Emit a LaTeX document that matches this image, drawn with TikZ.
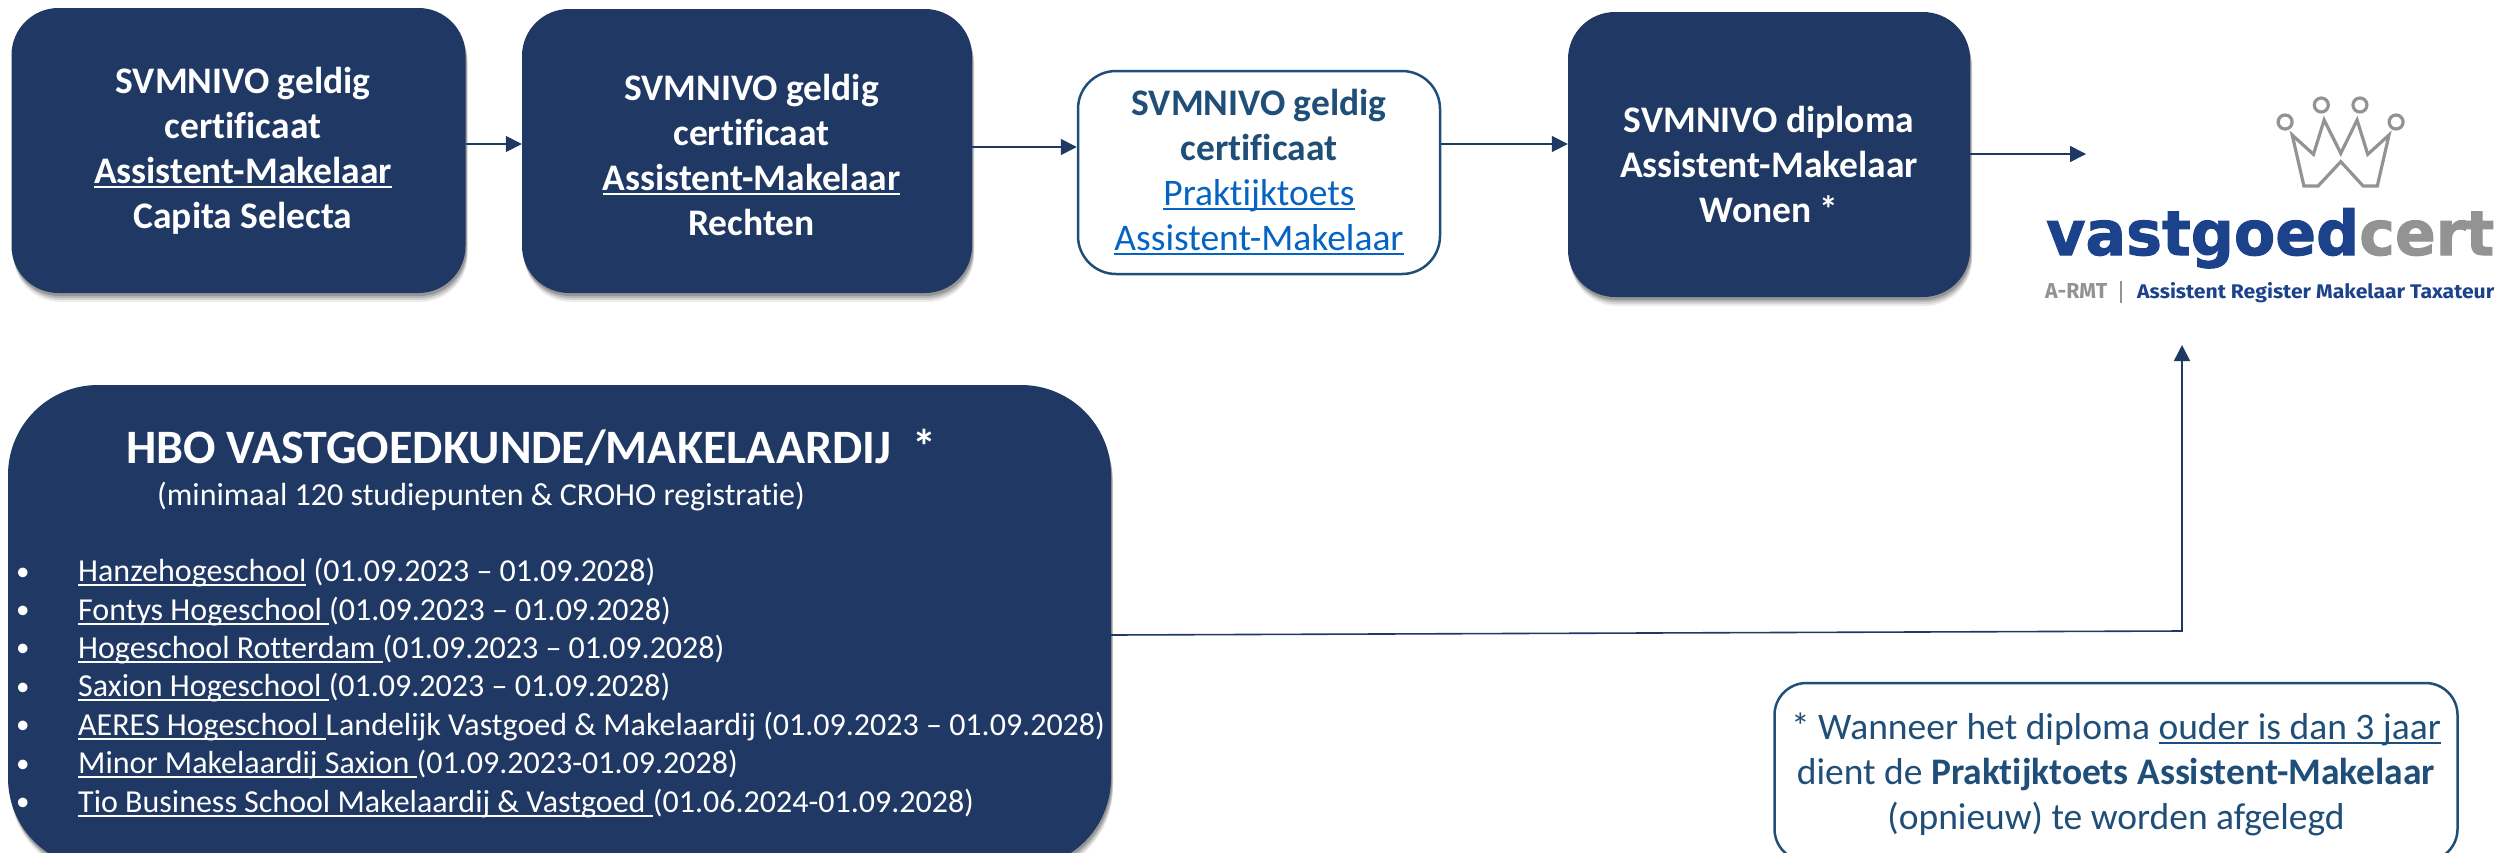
\documentclass[tikz,border=0pt]{standalone}
\usepackage{fontspec}
\setmainfont{Carlito}[Ligatures=NoCommon]
\newfontfamily\logofont{DejaVu Sans}[BoldFeatures={FakeBold=1.6}]
\newfontfamily\logosubfont{Fira Sans}
\usetikzlibrary{arrows.meta,shadows}
\definecolor{navy}{HTML}{203864}
\definecolor{teal}{HTML}{1F4E79}
\definecolor{linkblue}{HTML}{0563C1}
\definecolor{logoblue}{HTML}{1B428A}
\definecolor{logogray}{HTML}{939393}
\newsavebox{\ulinebox}
\newcommand{\uline}[1]{\sbox{\ulinebox}{#1}\rlap{\rule[-4.5pt]{\wd\ulinebox}{2pt}}\usebox{\ulinebox}}
\newcommand{\itembullet}{\makebox[63pt][l]{\hspace*{1pt}\raisebox{1.5pt}{\fontsize{27}{27}\selectfont •}}}
\newcommand{\nudge}{\hspace*{9pt}}
\tikzset{
  softshadow/.style={
    general shadow={fill=black,opacity=.07,shadow xshift=2pt,shadow yshift=-9pt},
    general shadow={fill=black,opacity=.10,shadow xshift=2pt,shadow yshift=-7pt},
    general shadow={fill=black,opacity=.14,shadow xshift=1.5pt,shadow yshift=-5pt},
    general shadow={fill=black,opacity=.18,shadow xshift=1pt,shadow yshift=-3pt}},
  darkbox/.style={draw=none,fill=navy,text=white,rounded corners=47pt,align=center,
    inner sep=0pt,softshadow,font=\fontsize{37.5}{45}\selectfont\bfseries},
  arrowline/.style={draw=navy,line width=1.6pt,-{Triangle[length=16pt,width=16pt]}},
  crownring/.style={draw=logogray,line width=3.2pt,circle,minimum size=14pt,inner sep=0pt},
}
\begin{document}
\begin{tikzpicture}[x=1pt,y=-1pt]
\useasboundingbox (0,0) rectangle (2506,852);
\node[darkbox,minimum width=454pt,minimum height=285pt] (b1) at (238.5,150.5)
  {\nudge SVMNIVO geldig\\\nudge certificaat\\\nudge\uline{Assistent-Makelaar}\\\nudge Capita Selecta};
\node[darkbox,minimum width=450pt,minimum height=284pt] (b2) at (747,151)
  {\rule{0pt}{34pt}\nudge SVMNIVO geldig\\\nudge certificaat\\\nudge\uline{Assistent-Makelaar}\\\nudge Rechten};
\node[draw=teal,line width=2.5pt,fill=white,rounded corners=38pt,minimum width=362pt,minimum height=203pt,
  align=center,inner sep=0pt,font=\fontsize{37.5}{45}\selectfont] (b3) at (1259,172.5)
  {\textcolor{teal}{\bfseries SVMNIVO geldig}\\\textcolor{teal}{\bfseries certificaat}\\
   \textcolor{linkblue}{\uline{Praktijktoets}}\\\textcolor{linkblue}{\uline{Assistent-Makelaar}}};
\node[darkbox,minimum width=402pt,minimum height=285pt] (b4) at (1769,154.5)
  {\rule{0pt}{47pt}SVMNIVO diploma\\Assistent-Makelaar\\Wonen *};
\node[darkbox,rounded corners=90pt,minimum width=1103pt,minimum height=483pt] (hbo) at (559.5,626.5) {};
\node[anchor=base west,text=white,inner sep=0pt,font=\fontsize{48}{50}\selectfont\bfseries] (hbotitle) at (126,463)
  {HBO VASTGOEDKUNDE/MAKELAARDIJ\ \ *};
\node[anchor=base west,text=white,inner sep=0pt,font=\fontsize{32}{36}\selectfont] (hbosub) at (157,505)
  {(minimaal 120 studiepunten \& CROHO registratie)};
\node[anchor=north west,text=white,inner sep=0pt,align=left,font=\fontsize{32}{38.4}\selectfont] (hbolist) at (15,558)
  {\itembullet\uline{Hanzehogeschool} (01.09.2023 – 01.09.2028)\\
   \itembullet\uline{Fontys Hogeschool }(01.09.2023 – 01.09.2028)\\
   \itembullet\uline{Hogeschool Rotterdam }(01.09.2023 – 01.09.2028)\\
   \itembullet\uline{Saxion Hogeschool }(01.09.2023 – 01.09.2028)\\
   \itembullet\uline{AERES Hogeschool }Landelijk Vastgoed \& Makelaardij (01.09.2023 – 01.09.2028)\\
   \itembullet\uline{Minor Makelaardij Saxion }(01.09.2023-01.09.2028)\\
   \itembullet\uline{Tio Business School Makelaardij \& Vastgoed }(01.06.2024-01.09.2028)};
\node[draw=teal,line width=2.5pt,fill=white,rounded corners=32pt,minimum width=683pt,minimum height=178pt,
  align=center,inner sep=0pt,text=teal,font=\fontsize{37.5}{45}\selectfont] (note) at (2116,772)
  {\rule{0pt}{32pt}* Wanneer het diploma \uline{ouder is dan 3 jaar}\\dient de \textbf{Praktijktoets Assistent-Makelaar}\\(opnieuw) te worden afgelegd};
% logo
\begin{scope}[shift={(1950,60)},x=.3546pt,y=-.3333pt,draw=logogray,line width=3.2pt]
  \draw[line join=miter] (965,225) -- (1025,283) -- (1055,180) -- (1102,280) -- (1148,180) -- (1178,283) -- (1238,225) -- (1205,378) -- (1165,378) -- (1102,305) -- (1038,378) -- (998,378) -- cycle;
  \node[crownring] (c1) at (945,186) {};
  \node[crownring] (c2) at (1047,135) {};
  \node[crownring] (c3) at (1156,135) {};
  \node[crownring] (c4) at (1258,186) {};
\end{scope}
\node[anchor=base west,inner sep=0pt] (logoname) at (2046,255)
  {\resizebox{448pt}{47pt}{\logofont\bfseries\textcolor{logoblue}{vastgoed}\textcolor{logogray}{cert}}};
\node[anchor=base west,inner sep=0pt] (logoarmt) at (2045,298)
  {\resizebox{62pt}{15pt}{\logosubfont\bfseries\textcolor{logogray}{A-RMT}}};
\node[fill=logogray,inner sep=0pt,minimum width=1.5pt,minimum height=22pt] (logobar) at (2121,292) {};
\node[anchor=base west,inner sep=0pt] (logosub) at (2137,298)
  {\resizebox{357pt}{16pt}{\logosubfont\bfseries\textcolor{logoblue}{Assistent Register Makelaar Taxateur}}};
% connectors
\coordinate (diplomaend) at (2086,154);
\coordinate (uptip) at (2182,345);
\coordinate (upcorner) at (2182,631);
\draw[arrowline] (b1.east |- 0,144) -- (b2.west |- 0,144);
\draw[arrowline] (b2.east |- 0,147) -- (b3.west |- 0,147);
\draw[arrowline] (b3.east |- 0,144) -- (b4.west |- 0,144);
\draw[arrowline] (b4.east |- diplomaend) -- (diplomaend);
\draw[arrowline] (hbo.east |- 0,635) -- (upcorner) -- (uptip);
\end{tikzpicture}
\end{document}
